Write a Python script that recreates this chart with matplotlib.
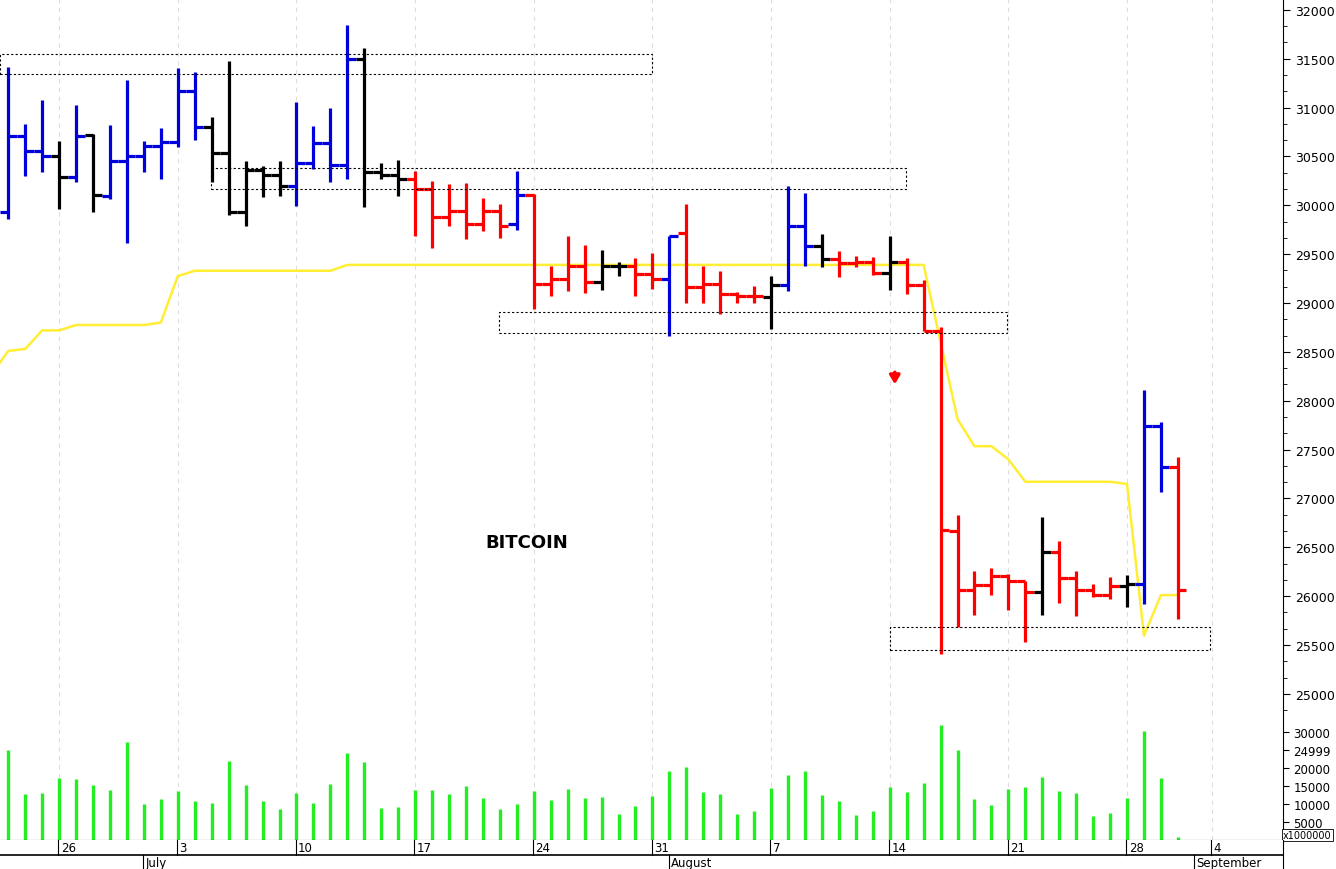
import matplotlib.pyplot as plt
from matplotlib.patches import Rectangle
from matplotlib.ticker import MultipleLocator

# daily bars, 23 June .. 31 Aug 2023
opens = [29928, 30712, 30559, 30508, 30286, 30720, 30100, 30457, 30500, 30604,
         30645, 31173, 30798, 30535, 29935, 30364, 30310, 30201, 30433, 30638,
         30416, 31497, 30344, 30310, 30269, 30167, 29883, 29939, 29808, 29939,
         29808, 30105, 29194, 29245, 29376, 29218, 29376, 29376, 29297, 29245,
         29716, 29167, 29194, 29092, 29068, 29058, 29187, 29785, 29580, 29450,
         29409, 29423, 29307, 29423, 29184, 28717, 26670, 26066, 26114, 26209,
         26155, 26039, 26455, 26182, 26066, 26011, 26100, 26124, 27738, 27318]
highs = [31412, 30832, 31077, 30661, 31027, 30730, 30822, 31286, 30661, 30791,
         31402, 31361, 30900, 31480, 30457, 30398, 30457, 31054, 30812, 30993,
         31845, 31607, 30433, 30467, 30355, 30252, 30218, 30228, 30072, 30013,
         30354, 30116, 29376, 29689, 29594, 29546, 29416, 29460, 29512, 29689,
         30013, 29376, 29331, 29116, 29177, 29273, 30201, 30123, 29706, 29535,
         29484, 29467, 29682, 29457, 29239, 28754, 26830, 26260, 26285, 26226,
         26155, 26806, 26567, 26260, 26124, 26192, 26216, 28113, 27779, 27421]
lows = [29860, 30303, 30338, 29962, 30235, 29935, 30064, 29614, 30338, 30269,
        30594, 30672, 30235, 29900, 29791, 30081, 30100, 29996, 30372, 30235,
        30269, 29979, 30269, 30100, 29689, 29560, 29791, 29655, 29740, 29665,
        29750, 28939, 29075, 29126, 29102, 29136, 29280, 29075, 29143, 28665,
        29001, 29001, 28887, 29001, 29001, 28734, 29126, 29382, 29365, 29263,
        29365, 29287, 29133, 29092, 28717, 25407, 25681, 25807, 26011, 25861,
        25527, 25807, 25926, 25800, 25988, 25970, 25885, 25919, 27069, 25766]
closes = [30712, 30559, 30508, 30286, 30705, 30105, 30457, 30500, 30604, 30645,
          31173, 30798, 30535, 29935, 30364, 30310, 30201, 30433, 30638, 30416,
          31497, 30344, 30310, 30269, 30167, 29883, 29939, 29808, 29939, 29785,
          30105, 29194, 29245, 29376, 29218, 29376, 29376, 29297, 29245, 29689,
          29167, 29194, 29092, 29068, 29068, 29187, 29785, 29580, 29450, 29409,
          29423, 29307, 29423, 29184, 28717, 26680, 26066, 26114, 26209, 26155,
          26039, 26455, 26182, 26066, 26011, 26100, 26124, 27738, 27318, 26066]
black_bars = [3, 5, 12, 13, 14, 15, 16, 21, 22, 23, 35, 36, 45, 48, 52, 61, 66]
blue_bars = [0, 1, 2, 4, 6, 7, 8, 9, 10, 11, 17, 18, 19, 20, 30, 39, 46, 47, 67, 68]
# stop line starts one bar before the first price bar
stop_line = [28270, 28510, 28530, 28720, 28720, 28775, 28775, 28775, 28775, 28775, 28800,
             29275] + [29330] * 9 + [29390] * 35 + \
            [28600, 27813, 27535, 27535, 27400, 27171, 27171, 27171, 27171, 27171,
             27171, 27148, 25596, 26011, 26011]
volume = [24900, 12680, 13140, 17090, 17000, 15160, 13790, 27020, 9930, 11300,
          13510, 10840, 10380, 21870, 15160, 10840, 8550, 12960, 10110, 15440,
          24170, 21600, 8820, 9010, 13790, 13790, 12680, 14980, 11580, 8550,
          9930, 13600, 11120, 14060, 11580, 11950, 7170, 9470, 12220, 19120,
          20100, 13330, 12680, 7170, 8090, 14340, 18100, 19020, 12410, 10840,
          6890, 8090, 14700, 13330, 15710, 31700, 24900, 11300, 9650, 14060,
          14800, 17550, 13600, 12960, 6520, 7440, 11580, 30050, 17090, 920]
# (x0, x1, y0, y1) in bar index / price
boxes = [(-0.5, 38.0, 31343, 31548), (11.96, 52.96, 30165, 30380),
         (28.95, 58.9, 28692, 28907), (52.0, 70.9, 25447, 25682)]
day_ticks = [3, 10, 17, 24, 31, 38, 45, 52, 59, 66, 71]
day_labels = ['26', '3', '10', '17', '24', '31', '7', '14', '21', '28', '4']
month_ticks = [8, 39, 70]
month_labels = ['July', 'August', 'September']

x0, x1 = -0.49, 75.2
fig = plt.figure(figsize=(13.36, 8.70), dpi=100)
ax = fig.add_axes([0, 0.178, 0.9603, 0.822])
axv = fig.add_axes([0, 0.0333, 0.9603, 0.1448])
axd = fig.add_axes([0, 0, 0.9603, 0.0333])

for a in (ax, axv, axd):
    a.set_xlim(x0, x1)
    for s in ('top', 'left', 'bottom'):
        a.spines[s].set_visible(False)
    a.tick_params(axis='x', bottom=False, labelbottom=False)

for t in day_ticks:
    ax.axvline(t, color='#dddddd', lw=0.8, ls=(0, (4, 4)), zorder=0)
    axv.axvline(t, color='#dddddd', lw=0.8, ls=(0, (4, 4)), zorder=0)

for i in range(len(opens)):
    c = 'black' if i in black_bars else ('#0000dd' if i in blue_bars else '#ff0000')
    ax.plot([i, i], [lows[i], highs[i]], color=c, lw=2.3, solid_capstyle='butt', zorder=3)
    ax.plot([i - 0.5, i], [opens[i], opens[i]], color=c, lw=2.3, solid_capstyle='butt', zorder=3)
    ax.plot([i, i + 0.5], [closes[i], closes[i]], color=c, lw=2.3, solid_capstyle='butt', zorder=3)

ax.plot(range(-1, len(stop_line) - 1), stop_line, color='#ffee33', lw=1.8, zorder=2)

for bx0, bx1, by0, by1 in boxes:
    ax.add_patch(Rectangle((bx0, by0), bx1 - bx0, by1 - by0, fill=False,
                           ec='black', lw=0.8, ls=(0, (2, 2)), zorder=4))

ax.annotate('', xy=(52.3, 28140), xytext=(52.3, 28320),
            arrowprops=dict(arrowstyle='-|>,head_width=0.3,head_length=0.5',
                            color='#ff0000', lw=2.5))
ax.text(30.6, 26550, 'BITCOIN', ha='center', va='center', fontsize=13, fontweight='bold')

ax.set_ylim(24793, 32111)
ax.yaxis.tick_right()
ax.set_yticks(range(25000, 32001, 500))
ax.yaxis.set_minor_locator(MultipleLocator(500 / 3))
ax.tick_params(axis='y', labelsize=9, length=5, direction='out')
ax.tick_params(axis='y', which='minor', length=3)

axv.vlines(range(len(volume)), 0, volume, color='#22ee22', lw=2.4)
axv.set_ylim(0, 34860)
axv.yaxis.tick_right()
axv.set_yticks([5000, 10000, 15000, 20000, 24999, 30000])
axv.tick_params(axis='y', labelsize=8.5, length=4)
axv.spines['bottom'].set_visible(True)
axv.text(1.0, 0.0, 'x1000000', transform=axv.transAxes, fontsize=7, ha='left', va='bottom',
         bbox=dict(boxstyle='square,pad=0.15', fc='white', ec='black', lw=0.6), clip_on=False)

axd.set_ylim(0, 2)
axd.axhline(1, color='black', lw=1.2)
for t, lab in zip(day_ticks, day_labels):
    axd.plot([t - 0.05, t - 0.05], [1, 2], color='black', lw=0.8)
    axd.text(t + 0.1, 1.45, lab, fontsize=8.5, va='center', ha='left')
for t, lab in zip(month_ticks, month_labels):
    axd.plot([t - 0.05, t - 0.05], [0, 1], color='black', lw=0.8)
    axd.text(t + 0.1, 0.45, lab, fontsize=8.5, va='center', ha='left')
axd.set_yticks([])

fig.savefig('out.png', dpi=100)
